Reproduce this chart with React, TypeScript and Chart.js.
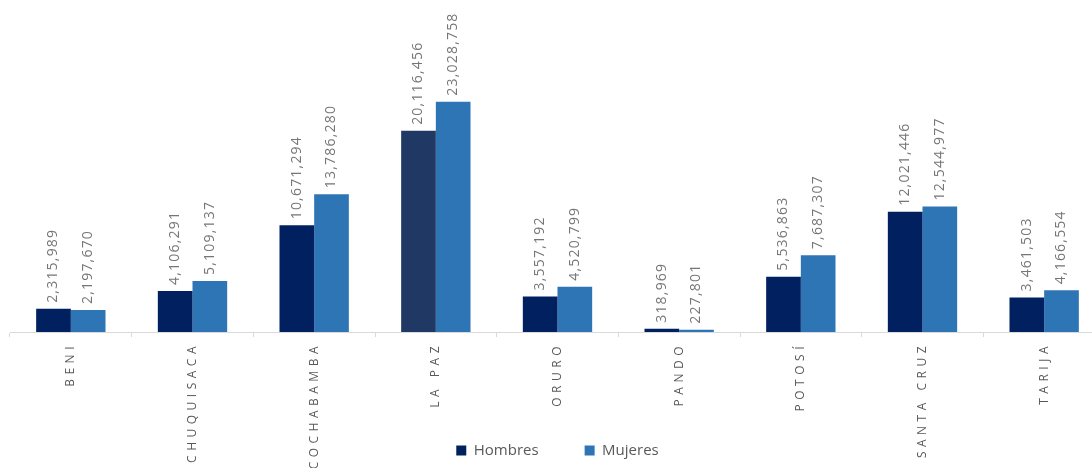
import React, { useEffect, useRef } from "react";
import { Chart, registerables } from "chart.js";

Chart.register(...registerables);

const categories = ["BENI", "CHUQUISACA", "COCHABAMBA", "LA PAZ", "ORURO", "PANDO", "POTOSÍ", "SANTA CRUZ", "TARIJA"];
const hombres = [2315989, 4106291, 10671294, 20116456, 3557192, 318969, 5536863, 12021446, 3461503];
const mujeres = [2197670, 5109137, 13786280, 23028758, 4520799, 227801, 7687307, 12544977, 4166554];
const seriesNames = ["Hombres", "Mujeres"];

const FONT = "'Open Sans', sans-serif";

const fmt = (v: number) => v.toLocaleString("en-US");

const labelPlugin = {
  id: "valueLabels",
  afterLayout(chart: any) {
    // let the rotated x labels run past the axis box (they are cut only by the canvas edge)
    const x = chart.scales.x;
    if (x) x.bottom = chart.height;
  },
  afterDatasetsDraw(chart: any) {
    const ctx = chart.ctx as CanvasRenderingContext2D;
    ctx.save();
    (ctx as any).letterSpacing = "1.2px";
    ctx.font = `14px ${FONT}`;
    ctx.fillStyle = "#767676";
    ctx.textAlign = "left";
    ctx.textBaseline = "middle";
    chart.data.datasets.forEach((ds: any, di: number) => {
      const meta = chart.getDatasetMeta(di);
      meta.data.forEach((bar: any, i: number) => {
        ctx.save();
        ctx.translate(bar.x, bar.y - 6);
        ctx.rotate(-Math.PI / 2);
        ctx.fillText(fmt(ds.data[i]), 0, 0);
        ctx.restore();
      });
    });
    ctx.restore();
    // letter spacing for the x tick labels drawn after datasets
    (ctx as any).letterSpacing = "4.5px";
  },
  afterDraw(chart: any) {
    (chart.ctx as any).letterSpacing = "0px";
  },
};

export default function App() {
  const ref = useRef<HTMLCanvasElement>(null);

  useEffect(() => {
    if (!ref.current) return;
    const chart = new Chart(ref.current, {
      type: "bar",
      data: {
        labels: categories,
        datasets: [
          {
            label: seriesNames[0],
            data: hombres,
            backgroundColor: (c: any) => (c.dataIndex === 3 ? "#203864" : "#002060"),
            categoryPercentage: 0.57,
            barPercentage: 1,
          },
          {
            label: seriesNames[1],
            data: mujeres,
            backgroundColor: "#2E75B6",
            categoryPercentage: 0.57,
            barPercentage: 1,
          },
        ],
      },
      options: {
        responsive: false,
        animation: false,
        layout: { padding: { left: 10, right: 5, top: 0, bottom: 0 } },
        plugins: {
          tooltip: { enabled: false },
          legend: {
            position: "bottom",
            labels: {
              boxWidth: 10,
              boxHeight: 10,
              padding: 46,
              color: "#595959",
              font: { family: FONT, size: 15 },
            },
          },
        },
        scales: {
          x: {
            border: { display: true, color: "#D9D9D9", width: 1 },
            grid: {
              display: true,
              drawOnChartArea: false,
              drawTicks: true,
              tickLength: 5,
              color: "#D9D9D9",
              offset: true,
            },
            ticks: {
              z: 1,
              minRotation: 90,
              maxRotation: 90,
              autoSkip: false,
              padding: 5,
              color: "#595959",
              font: { family: FONT, size: 12 },
            },
            afterFit: (scale: any) => {
              scale.height = 65;
            },
          },
          y: {
            display: false,
            min: 0,
            max: 33200000,
          },
        },
      },
      plugins: [labelPlugin],
    } as any);
    return () => chart.destroy();
  }, []);

  return (
    <div style={{ position: "fixed", left: 0, top: 0, width: 1092, height: 468, overflow: "hidden", background: "#fff" }}>
      <canvas ref={ref} width={1110} height={468} style={{ width: 1110, height: 468, display: "block" }} />
    </div>
  );
}
